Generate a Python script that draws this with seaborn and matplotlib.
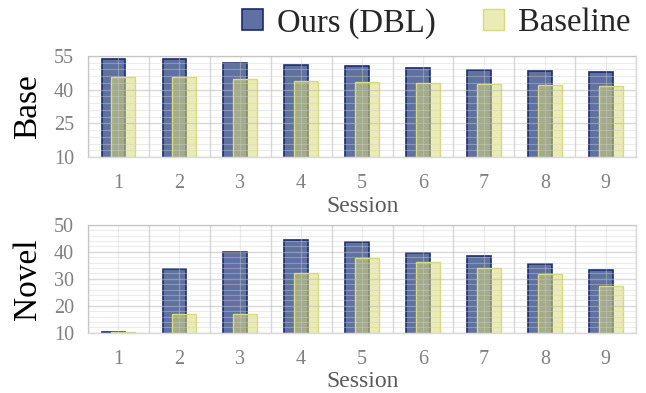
import numpy as np
import pandas as pd
import matplotlib
matplotlib.use("Agg")
import matplotlib.pyplot as plt
from matplotlib.patches import Patch
from matplotlib.ticker import AutoMinorLocator
import seaborn as sns

# Per-session accuracy (%) for the incremental sessions
sessions = [1, 2, 3, 4, 5, 6, 7, 8, 9]
base_ours = [53.7, 53.8, 52.0, 51.0, 50.3, 49.4, 48.9, 48.2, 47.8]
base_baseline = [45.8, 45.5, 44.7, 44.0, 43.5, 42.9, 42.4, 42.0, 41.4]
novel_ours = [10.2, 33.6, 40.0, 44.3, 43.6, 39.4, 38.3, 35.4, 33.4]
novel_baseline = [10.2, 16.8, 16.8, 32.1, 37.7, 36.2, 34.0, 31.9, 27.5]

series_names = ["Ours (DBL)", "Baseline"]
base_ticks = [10, 25, 40, 55]
novel_ticks = [10, 20, 30, 40, 50]

sns.set_theme(style="white")
plt.rcParams["font.family"] = ["Liberation Serif", "DejaVu Serif"]

ours_face = (42 / 255, 66 / 255, 128 / 255, 0.75)
ours_edge = "#1a2c6e"
base_face = (220 / 255, 220 / 255, 120 / 255, 0.55)
base_edge = "#dada7c"

fig = plt.figure(figsize=(6.46, 3.93), dpi=100)
ax_top = fig.add_axes([0.136, 0.600, 0.849, 0.258])
ax_bot = fig.add_axes([0.136, 0.153, 0.849, 0.275])

offset = 0.08
bar_w = 0.39


def draw_panel(ax, ours, baseline, ticks, ylabel):
    df_o = pd.DataFrame({"x": np.array(sessions) - offset, "y": ours})
    df_b = pd.DataFrame({"x": np.array(sessions) + offset, "y": baseline})
    sns.barplot(data=df_o, x="x", y="y", native_scale=True, width=bar_w,
                color=ours_face[:3], ax=ax, errorbar=None,
                edgecolor=ours_edge, linewidth=1.2)
    sns.barplot(data=df_b, x="x", y="y", native_scale=True, width=bar_w,
                color=base_face[:3], ax=ax, errorbar=None,
                edgecolor=base_edge, linewidth=1.0)
    n = len(sessions)
    for i, p in enumerate(ax.patches):
        fc = ours_face if i < n else base_face
        p.set_facecolor(fc)
    ax.set_xlim(0.5, len(sessions) + 0.5)
    ax.set_ylim(ticks[0], ticks[-1])
    ax.set_yticks(ticks)
    ax.set_xticks(sessions)
    ax.set_xticklabels([str(s) for s in sessions])
    ax.set_xticks(np.arange(0.5, len(sessions) + 1, 1.0), minor=True)
    ax.yaxis.set_minor_locator(AutoMinorLocator(5))
    ax.set_axisbelow(False)
    # category separators and major y lines
    ax.grid(which="minor", axis="x", color="#b8b8b8", alpha=0.55, lw=1.0)
    ax.grid(which="major", axis="y", color="#b8b8b8", alpha=0.55, lw=1.0)
    # light lines at session centres and minor y steps
    ax.grid(which="major", axis="x", color="#d0d0d0", alpha=0.4, lw=0.8)
    ax.grid(which="minor", axis="y", color="#d0d0d0", alpha=0.4, lw=0.8)
    ax.tick_params(which="both", length=0)
    ax.tick_params(axis="y", labelsize=14.5, labelcolor="#808080", pad=10)
    ax.tick_params(axis="x", labelsize=14.5, labelcolor="#808080", pad=12)
    for s in ax.spines.values():
        s.set_color("#d9d9d9")
        s.set_linewidth(1.0)
    ax.set_xlabel("Session", fontsize=17, color="#595959", labelpad=2)
    ax.set_ylabel(ylabel, fontsize=24, color="black", labelpad=8)


draw_panel(ax_top, base_ours, base_baseline, base_ticks, "Base")
draw_panel(ax_bot, novel_ours, novel_baseline, novel_ticks, "Novel")
fig.align_ylabels([ax_top, ax_bot])

handles = [
    Patch(facecolor=ours_face, edgecolor=ours_edge, linewidth=1.2),
    Patch(facecolor=base_face, edgecolor=base_edge, linewidth=1.0),
]
fig.legend(handles, series_names, loc="upper right", bbox_to_anchor=(1.022, 1.055),
           ncol=2, frameon=False, fontsize=23.5, handlelength=0.62, handleheight=0.62,
           handletextpad=0.45, columnspacing=1.45)

fig.savefig("out.png", dpi=100)
